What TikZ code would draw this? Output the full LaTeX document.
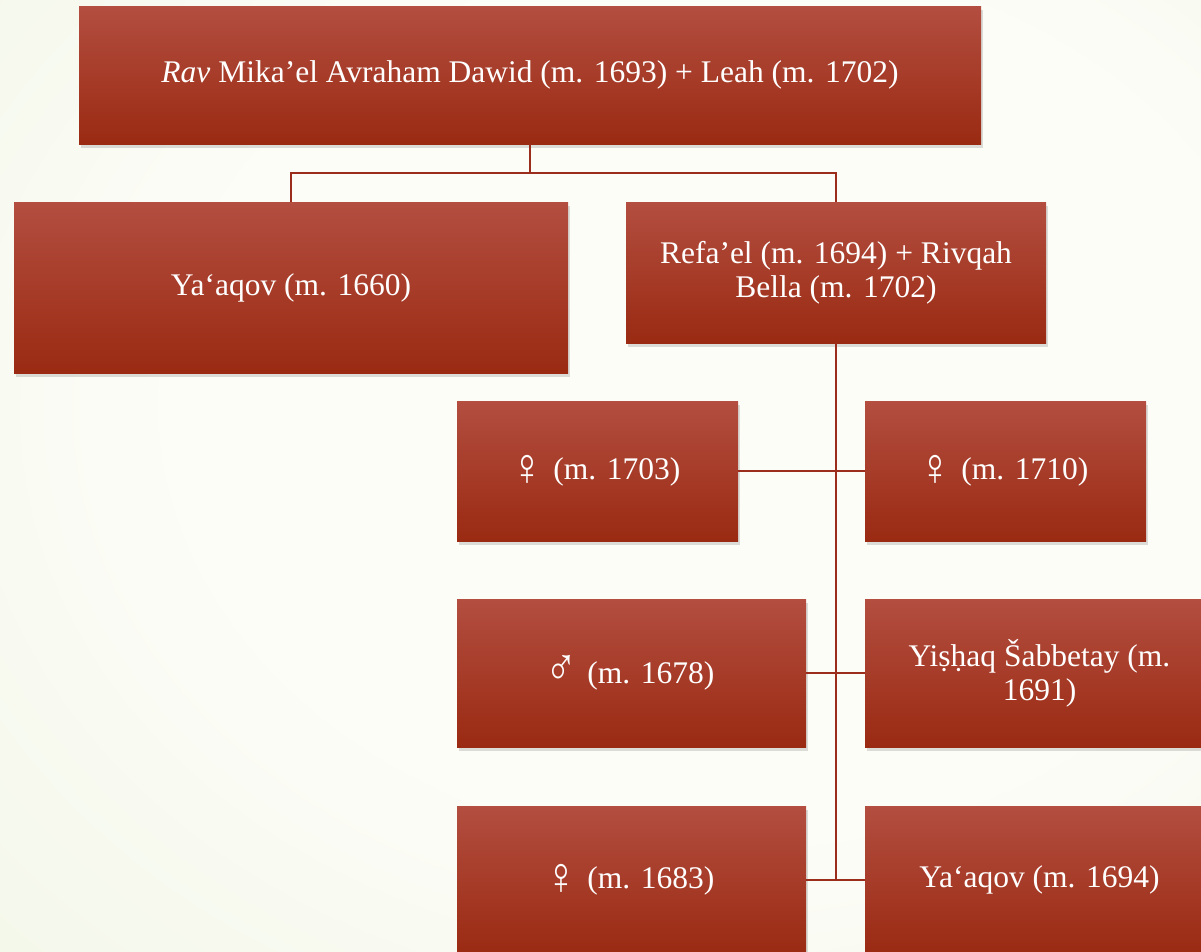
\documentclass[tikz,border=0pt]{standalone}
\usepackage{fontspec}
\setmainfont{Liberation Serif}
\usetikzlibrary{shadows}
\definecolor{boxtop}{HTML}{B34E40}
\definecolor{boxbot}{HTML}{9A2A12}
\definecolor{connc}{HTML}{9B2D1C}
\definecolor{bgin}{HTML}{FDFDF8}
\definecolor{bgout}{HTML}{E6EFD6}
\pgfdeclareradialshading{bgshade}{\pgfpoint{8bp}{6bp}}{color(0bp)=(bgin); color(22bp)=(bgin); color(66bp)=(bgout)}
\newcommand{\venus}{\kern-3pt\raisebox{-6pt}{\scalebox{1.35}[1.7]{♀}}\kern2pt}
\newcommand{\mars}{\kern-3pt\raisebox{-2pt}{\scalebox{1.35}[1.7]{♂}}\kern2pt}
\tikzset{
  box/.style={rectangle, inner sep=0pt, top color=boxtop, bottom color=boxbot,
    text=white, align=center, font=\fontsize{31.5}{34}\selectfont,
    drop shadow={shadow xshift=2pt, shadow yshift=-4pt, opacity=0.22, fill=black!60}},
  conn/.style={draw=connc, line width=2pt}
}
\begin{document}
\begin{tikzpicture}[x=1pt, y=-1pt]
\useasboundingbox (0,0) rectangle (1201,951);
\fill[shading=bgshade] (0,0) rectangle (1201,951);

\node[box, minimum width=902pt, minimum height=138pt] (top) at (530,75)
  {\textit{Rav} Mika’el Avraham Dawid (m. 1693) + Leah (m. 1702)};
\node[box, minimum width=554pt, minimum height=171pt] (y1660) at (291,287.5)
  {Ya‘aqov (m. 1660)};
\node[box, minimum width=420pt, minimum height=141pt] (ref) at (836,272.5)
  {Refa’el (m. 1694) + Rivqah\\Bella (m. 1702)};
\node[box, minimum width=281pt, minimum height=140pt] (f1703) at (597.5,471)
  {\venus{} (m. 1703)};
\node[box, minimum width=281pt, minimum height=140pt] (f1710) at (1005.5,471)
  {\venus{} (m. 1710)};
\node[box, minimum width=349pt, minimum height=148pt] (m1678) at (631.5,673)
  {\mars{} (m. 1678)};
\node[box, minimum width=349pt, minimum height=148pt] (yis) at (1039.5,673)
  {Yiṣḥaq Šabbetay (m.\\1691)};
\node[box, minimum width=349pt, minimum height=148pt] (f1683) at (631.5,880)
  {\venus{} (m. 1683)};
\node[box, minimum width=349pt, minimum height=148pt] (y1694) at (1039.5,880)
  {Ya‘aqov (m. 1694)};

\draw[conn] (top.south) -- ++(0,29) -| (y1660.north);
\draw[conn] (top.south) -- ++(0,29) -| (ref.north);
\draw[conn] (ref.south) -- (ref.south |- f1683.east);
\draw[conn] (f1703.east) -- (f1710.west);
\draw[conn] (m1678.east) -- (yis.west);
\draw[conn] (f1683.east) -- (y1694.west);
\end{tikzpicture}
\end{document}
